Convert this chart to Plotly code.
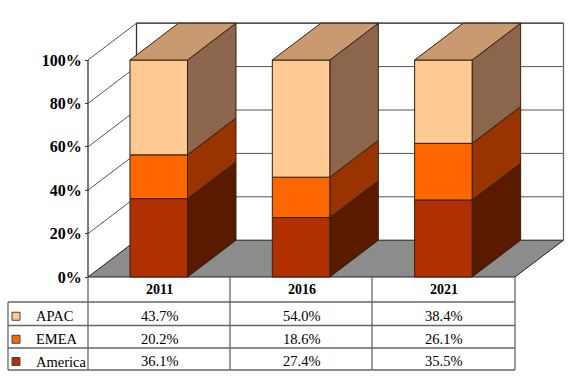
import plotly.graph_objects as go

# ---- data ----
years = ["2011", "2016", "2021"]
series = ["America", "EMEA", "APAC"]
america = [36.1, 27.4, 35.5]
emea = [20.2, 18.6, 26.1]
apac = [43.7, 54.0, 38.4]
y_ticks = [0, 20, 40, 60, 80, 100]
y_tick_labels = ["0%", "20%", "40%", "60%", "80%", "100%"]

# ---- styles ----
front_colors = ["#B03000", "#FF6600", "#FFC993"]
side_colors = ["#5A1A00", "#993300", "#8C664C"]
top_color = "#C99A70"
edge = "#33200F"
wall_line = "#555555"
floor_color = "#8C8C8C"
FONT = "Liberation Serif"

W, H = 572, 392
X0_PX, COL_PX = 88.0, 142.33
Y0_PX, PX_PER_PCT = 277.0, 2.17
DX, DY = 48.5 / COL_PX, 36.8 / PX_PER_PCT  # oblique depth in axis units
BAR_L, BAR_W = 0.295, 0.404


def px(xp):
    return xp / W


def py(yp):
    return 1 - yp / H


fig = go.Figure()


def poly(xs, ys, fill, line=edge, width=1, name=""):
    fig.add_trace(go.Scatter(x=xs + xs[:1], y=ys + ys[:1], mode="lines", fill="toself",
                             fillcolor=fill, line=dict(color=line, width=width),
                             hoverinfo="skip", showlegend=False, name=name))


def seg(xs, ys, color=wall_line, width=1):
    fig.add_trace(go.Scatter(x=xs, y=ys, mode="lines", line=dict(color=color, width=width),
                             hoverinfo="skip", showlegend=False))


n = len(years)
# walls and grid
for v in y_ticks[1:]:
    seg([0, DX, n + DX], [v, v + DY, v + DY])
seg([0, 0], [0, 100], "#333333", 1.3)
seg([DX, DX], [0 + DY, 100 + DY], "#333333", 1.3)
seg([n + DX, n + DX], [DY, 100 + DY], "#666666", 1.3)
seg([DX, n + DX], [100 + DY, 100 + DY], "#444444", 1.3)
# floor
poly([0, n, n + DX, DX], [0, 0, DY, DY], floor_color, "#222222", 1)

# bars
for i in range(n):
    base = 0.0
    xl, xr = i + BAR_L, i + BAR_L + BAR_W
    for k, vals in enumerate([america, emea, apac]):
        top = base + vals[i]
        poly([xr, xr + DX, xr + DX, xr], [base, base + DY, top + DY, top], side_colors[k], name=series[k])
        poly([xl, xr, xr, xl], [base, base, top, top], front_colors[k], name=series[k])
        base = top
    poly([xl, xr, xr + DX, xl + DX], [base, base, base + DY, base + DY], top_color)

# table lines
shapes = []
tbl = "#666666"
row_px = [277, 302, 325.5, 348, 370]
col_px = [88, 230, 372, 515]
for yp in row_px[1:]:
    shapes.append(dict(type="line", xref="paper", yref="paper", x0=px(8), x1=px(515),
                       y0=py(yp), y1=py(yp), line=dict(color=tbl, width=1.3)))
shapes.append(dict(type="line", xref="paper", yref="paper", x0=px(8), x1=px(8),
                   y0=py(302), y1=py(370), line=dict(color=tbl, width=1.3)))
for xp in col_px:
    shapes.append(dict(type="line", xref="paper", yref="paper", x0=px(xp), x1=px(xp),
                       y0=py(277), y1=py(370), line=dict(color=tbl, width=1.3)))

annotations = []
for i, yr in enumerate(years):
    annotations.append(dict(text=f"<b>{yr}</b>", xref="x", yref="paper", x=i + 0.5,
                            y=py(289), yanchor="middle", xanchor="center", showarrow=False,
                            font=dict(family=FONT, size=14, color="#000000")))
rows = [("APAC", apac, 2), ("EMEA", emea, 1), ("America", america, 0)]
for r, (label, vals, k) in enumerate(rows):
    yc = (row_px[r + 1] + row_px[r + 2]) / 2
    shapes.append(dict(type="rect", xref="paper", yref="paper", x0=px(12), x1=px(20),
                       y0=py(yc + 2.5 - 4), y1=py(yc + 2.5 + 4), fillcolor=front_colors[k],
                       line=dict(color="#444444", width=1)))
    annotations.append(dict(text=label, xref="paper", yref="paper", x=px(33.5), y=py(yc + 2.5),
                            xanchor="left", yanchor="middle", showarrow=False,
                            font=dict(family=FONT, size=14.5, color="#000000")))
    for i, v in enumerate(vals):
        annotations.append(dict(text=f"{v:.1f}%", xref="x", yref="paper", x=i + 0.5, y=py(yc + 2),
                                xanchor="center", yanchor="middle", showarrow=False,
                                font=dict(family=FONT, size=14.5, color="#000000")))

fig.update_layout(
    width=W, height=H, margin=dict(l=0, r=0, t=0, b=0, pad=0, autoexpand=False),
    paper_bgcolor="white", plot_bgcolor="white", showlegend=False,
    shapes=shapes, annotations=annotations,
    xaxis=dict(visible=False, range=[-X0_PX / COL_PX, (W - X0_PX) / COL_PX], fixedrange=True),
    yaxis=dict(range=[(Y0_PX - H) / PX_PER_PCT, Y0_PX / PX_PER_PCT], anchor="free", position=px(X0_PX),
               tickmode="array", tickvals=y_ticks, ticktext=[f"<b>{t}</b>" for t in y_tick_labels],
               ticks="outside", ticklen=3, tickcolor="#333333", showgrid=False, zeroline=False,
               showline=False, fixedrange=True,
               tickfont=dict(family=FONT, size=16, color="#000000")),
)

fig.write_html("out.html", config=dict(displayModeBar=False),
               post_script="document.body.style.margin='0';")
